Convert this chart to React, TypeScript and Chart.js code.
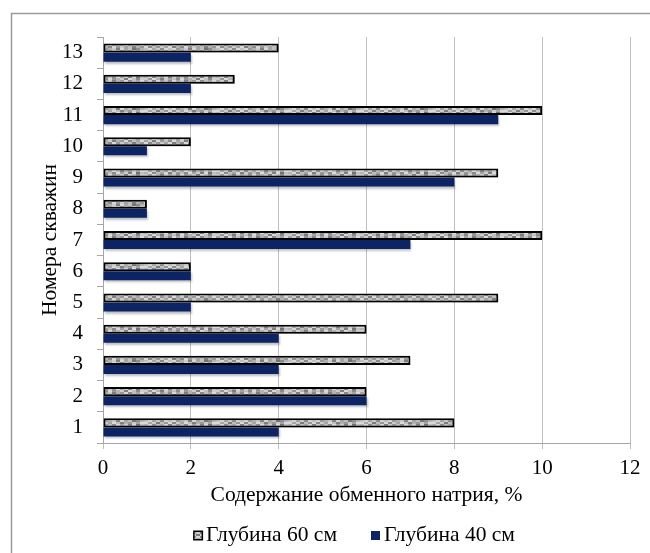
import React, { useEffect, useRef } from "react";
import { Chart, registerables } from "chart.js";

Chart.register(...registerables);

const WELLS = ["1", "2", "3", "4", "5", "6", "7", "8", "9", "10", "11", "12", "13"];
const DEPTH_60 = [8, 6, 7, 6, 9, 2, 10, 1, 9, 2, 10, 3, 4];
const DEPTH_40 = [4, 6, 4, 4, 2, 2, 7, 1, 8, 1, 9, 2, 2];
const SERIES_NAMES = ["Глубина 60 см", "Глубина 40 см"];
const X_TITLE = "Содержание обменного натрия, %";
const Y_TITLE = "Номера скважин";

const FONT = '"Liberation Serif", "Times New Roman", serif';
const NAVY = "#0c2463";

// fixed mottled texture (gray levels 0-9), purely a fill style
const TEXTURE = [
  "795839794682957136",
  "958274938597264859",
  "693759284739582917",
  "849628573946829738",
  "582947395826493759",
  "937485926394857264",
];

function makePattern(): CanvasPattern | string {
  const c = document.createElement("canvas");
  const cw = 4;
  const ch = 2;
  c.width = TEXTURE[0].length * cw;
  c.height = TEXTURE.length * ch;
  const g = c.getContext("2d");
  if (!g) return "#a0a0a0";
  TEXTURE.forEach((row, y) => {
    for (let x = 0; x < row.length; x++) {
      const v = 100 + Number(row[x]) * 13;
      g.fillStyle = `rgb(${v},${v},${v})`;
      g.fillRect(x * cw, y * ch, cw, ch);
    }
  });
  const p = g.createPattern(c, "repeat");
  return p || "#a0a0a0";
}

const framePlugin = {
  id: "frame",
  beforeDraw(chart: any) {
    const ctx = chart.ctx;
    ctx.save();
    ctx.fillStyle = "#ffffff";
    ctx.fillRect(0, 0, chart.width, chart.height);
    ctx.strokeStyle = "#9a9a9a";
    ctx.lineWidth = 1.5;
    ctx.strokeRect(11.5, 13.5, chart.width + 20, chart.height + 20);
    ctx.restore();
  },
};

const shadowPlugin = {
  id: "barShadow",
  beforeDatasetsDraw(chart: any) {
    const ctx = chart.ctx;
    ctx.save();
    ctx.shadowColor = "rgba(0,0,0,0.25)";
    ctx.shadowOffsetX = 1;
    ctx.shadowOffsetY = 2;
    ctx.shadowBlur = 2;
  },
  afterDatasetsDraw(chart: any) {
    chart.ctx.restore();
  },
};

// legend drawn from the chart's own datasets (Excel-like spacing)
const legendPlugin = {
  id: "excelLegend",
  afterDraw(chart: any) {
    const ctx = chart.ctx;
    const sets = chart.data.datasets;
    const box = 10;
    const gap = 3;
    const between = 34;
    ctx.save();
    ctx.font = `21.5px ${FONT}`;
    const widths = sets.map((d: any) => ctx.measureText(d.label).width);
    const total = widths.reduce((a: number, w: number) => a + box + gap + w, 0) + between * (sets.length - 1);
    let x = 354 - total / 2;
    const baseline = 541;
    sets.forEach((d: any, i: number) => {
      const by = 530.5;
      if (d.borderWidth) {
        ctx.fillStyle = d.borderColor;
        ctx.fillRect(x, by, box, box);
        ctx.fillStyle = d.backgroundColor;
        ctx.fillRect(x + 1.5, by + 1.5, box - 3, box - 3);
      } else {
        ctx.fillStyle = d.backgroundColor;
        ctx.fillRect(x, by + 0.5, box - 1, box - 1);
      }
      x += box + gap;
      ctx.fillStyle = "#000";
      ctx.textBaseline = "alphabetic";
      ctx.textAlign = "left";
      ctx.fillText(d.label, x, baseline);
      x += widths[i] + between;
    });
    ctx.restore();
  },
};

export default function App() {
  const ref = useRef<HTMLCanvasElement | null>(null);

  useEffect(() => {
    if (!ref.current) return;
    const pattern = makePattern();
    const labels = [...WELLS].reverse();
    const d60 = [...DEPTH_60].reverse();
    const d40 = [...DEPTH_40].reverse();
    const chart = new Chart(ref.current, {
      type: "bar",
      data: {
        labels,
        datasets: [
          {
            label: SERIES_NAMES[0],
            data: d60,
            backgroundColor: pattern as any,
            borderColor: "#000000",
            borderWidth: 2,
            borderSkipped: false,
            categoryPercentage: 0.58,
            barPercentage: 1,
          },
          {
            label: SERIES_NAMES[1],
            data: d40,
            backgroundColor: NAVY,
            borderWidth: 0,
            categoryPercentage: 0.58,
            barPercentage: 1,
          },
        ],
      },
      options: {
        indexAxis: "y",
        animation: false,
        responsive: true,
        maintainAspectRatio: false,
        layout: { padding: { top: 37, left: 22, right: 20, bottom: 40 } },
        plugins: {
          tooltip: { enabled: false },
          legend: { display: false },
        },
        scales: {
          x: {
            min: 0,
            max: 12,
            ticks: {
              stepSize: 2,
              font: { family: FONT, size: 21 },
              color: "#000",
              padding: 7,
            },
            grid: { color: "#bfbfbf", tickLength: 6, lineWidth: 1 },
            border: { color: "#a6a6a6" },
            title: {
              display: true,
              text: X_TITLE,
              font: { family: FONT, size: 21.5 },
              color: "#000",
              padding: { top: 2, bottom: 5 },
            },
            afterFit(scale: any) {
              scale.height = 553 - 40 - 443;
            },
          },
          y: {
            ticks: {
              font: { family: FONT, size: 21 },
              color: "#000",
              padding: 14,
            },
            grid: {
              offset: true,
              drawOnChartArea: false,
              tickLength: 6,
              color: "#a6a6a6",
            },
            border: { color: "#a6a6a6" },
            title: {
              display: true,
              text: Y_TITLE,
              font: { family: FONT, size: 21.5 },
              color: "#000",
              padding: { top: 15, bottom: 2 },
            },
            afterFit(scale: any) {
              scale.width = 103 - 22;
            },
          },
        },
      },
      plugins: [framePlugin, shadowPlugin, legendPlugin],
    });
    return () => chart.destroy();
  }, []);

  return (
    <div style={{ position: "absolute", left: 0, top: 0, width: 650, height: 553 }}>
      <canvas ref={ref} />
    </div>
  );
}
